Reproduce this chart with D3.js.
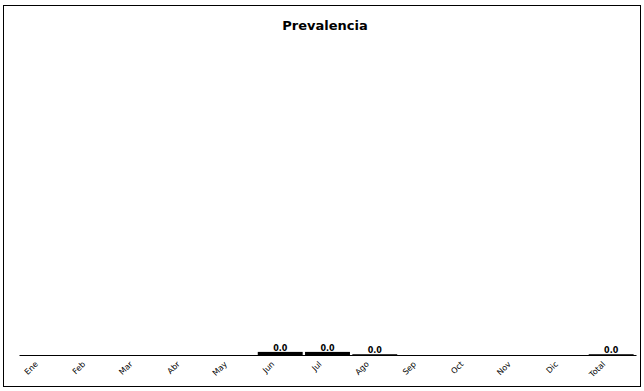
<!DOCTYPE html>
<html><head><meta charset="utf-8">
<script src="https://cdn.jsdelivr.net/npm/d3@7"></script>
<style>body{margin:0;background:#fff}svg{display:block}</style>
</head><body>
<script>
const categories = ["Ene","Feb","Mar","Abr","May","Jun","Jul","Ago","Sep","Oct","Nov","Dic","Total"];
const values = [0,0,0,0,0,0.04,0.04,0.01,0,0,0,0,0.01];
const chartTitle = "Prevalencia";

const W = 644, H = 391;
const svg = d3.select("body").append("svg").attr("width", W).attr("height", H);
svg.append("rect").attr("x",3.5).attr("y",5.5).attr("width",637).attr("height",381)
  .attr("fill","#fff").attr("stroke","#000").attr("stroke-width",1);

svg.append("text").attr("x",325).attr("y",30).attr("text-anchor","middle")
  .attr("font-family","DejaVu Sans").attr("font-weight","bold").attr("font-size",13)
  .text(chartTitle);

const x = d3.scaleBand().domain(categories).range([19, 636]).padding(0.05);
const y = d3.scaleLinear().domain([0, 4]).range([355, 45]);

svg.selectAll(".bar").data(categories).enter().append("rect")
  .attr("x", d => x(d)).attr("width", x.bandwidth())
  .attr("y", (d,i) => y(values[i])).attr("height", (d,i) => y(0) - y(values[i]))
  .attr("fill","#000");

const xAxis = d3.axisBottom(x).tickSize(0).tickPadding(6);
const gx = svg.append("g").attr("transform","translate(0,355)").call(xAxis);
gx.select(".domain").attr("stroke","#000");
gx.selectAll("text").attr("font-family","DejaVu Sans").attr("font-size",8)
  .attr("text-anchor","end").attr("dx","0").attr("dy","0.6em")
  .attr("transform","translate(-13,2) rotate(-45)");

svg.selectAll(".lbl").data(categories).enter().filter((d,i)=>values[i]>0).append("text")
  .attr("x", d => x(d) + x.bandwidth()/2).attr("y", d => y(values[categories.indexOf(d)]) - 1)
  .attr("text-anchor","middle").attr("font-family","DejaVu Sans").attr("font-size",8)
  .attr("font-weight","bold")
  .text(d => values[categories.indexOf(d)].toFixed(1));
</script>
</body></html>
